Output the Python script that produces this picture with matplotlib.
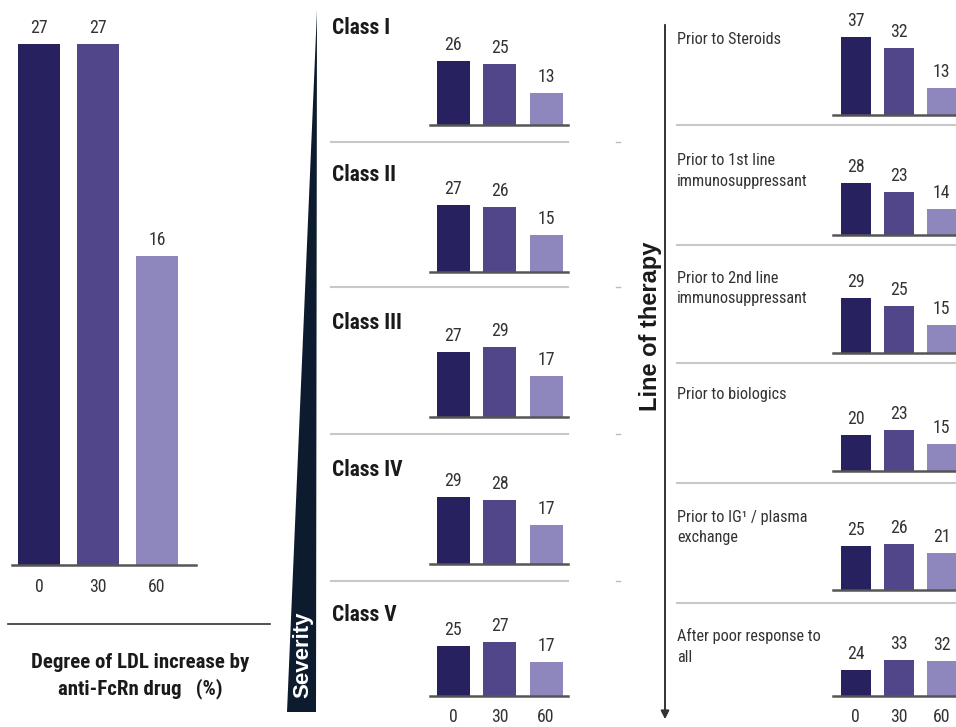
import matplotlib
matplotlib.use("Agg")
import matplotlib.pyplot as plt
from matplotlib import font_manager
from matplotlib.lines import Line2D
from matplotlib.patches import Polygon, FancyArrowPatch

# data
doses = ["0", "30", "60"]
overall = [27, 27, 16]

severity_classes = ["Class I", "Class II", "Class III", "Class IV", "Class V"]
severity_values = [
    [26, 25, 13],
    [27, 26, 15],
    [27, 29, 17],
    [29, 28, 17],
    [25, 27, 17],
]

therapy_lines = [
    "Prior to Steroids",
    "Prior to 1st line\nimmunosuppressant",
    "Prior to 2nd line\nimmunosuppressant",
    "Prior to biologics",
    "Prior to IG\u00b9 / plasma\nexchange",
    "After poor response to\nall",
]
therapy_values = [
    [37, 32, 13],
    [28, 23, 14],
    [29, 25, 15],
    [20, 23, 15],
    [25, 26, 21],
    [24, 33, 32],
]

COLORS = ["#28215f", "#51468a", "#8e87bd"]
TEXT = "#333333"
DARK = "#1a1a1a"

# pick a narrow face if one is installed, else plain Liberation Sans
fonts = font_manager.fontManager.ttflist
names = {f.name for f in fonts}
NARROW = {"family": "Liberation Sans"}
for want in ["Liberation Sans Narrow", "Noto Sans ExtraCondensed",
             "Noto Sans Condensed", "Roboto Condensed", "Open Sans Condensed"]:
    if want in names:
        NARROW = {"family": want}
        break
else:
    for f in fonts:
        if str(f.stretch) == "condensed":
            NARROW = {"family": f.name, "stretch": "condensed"}
            break
WIDE = "Liberation Sans"

W, H = 956, 727
fig = plt.figure(figsize=(W / 100, H / 100), dpi=100)
renderer = fig.canvas.get_renderer()


def text_width(s, size, **kw):
    t = fig.text(0, 0, s, fontsize=size, **kw)
    w = t.get_window_extent(renderer).width
    t.remove()
    return w


# scale the narrow text so long words keep their printed width
K = 132 / text_width("immunosuppressant", 12.5, **NARROW)
K_BOLD = 218 / text_width("Degree of LDL increase by", 14.5, weight="bold", **NARROW)
NUM = 13.5 * min(1.15, max(K, 0.95))


def px_axes(x0, x1, y_base, y_top):
    return fig.add_axes([x0 / W, 1 - y_base / H, (x1 - x0) / W, (y_base - y_top) / H])


def fig_line(x0, y0, x1, y1, **kw):
    fig.add_artist(Line2D([x0 / W, x1 / W], [1 - y0 / H, 1 - y1 / H],
                          transform=fig.transFigure, **kw))


def fig_text(x, y, s, **kw):
    return fig.text(x / W, 1 - y / H, s, **kw)


def mini_bars(ax, values, px_per_unit, height_px, width, xlim, show_ticks):
    ax.bar(range(3), values, width=width, color=COLORS)
    ax.set_xlim(*xlim)
    ax.set_ylim(0, height_px / px_per_unit)
    for side in ["top", "right", "left"]:
        ax.spines[side].set_visible(False)
    ax.spines["bottom"].set_color("#555555")
    ax.spines["bottom"].set_linewidth(1.8)
    ax.set_yticks([])
    if show_ticks:
        ax.set_xticks(range(3), doses, fontsize=NUM, color=TEXT, **NARROW)
        ax.tick_params(axis="x", length=0, pad=9)
    else:
        ax.set_xticks([])
    for i, v in enumerate(values):
        ax.annotate(str(v), (i, v), xytext=(0, 11.5), textcoords="offset points",
                    ha="center", va="center", fontsize=NUM, color=TEXT,
                    annotation_clip=False, **NARROW)
    ax.patch.set_visible(False)


# left: overall
ax = px_axes(12, 196, 565, 20)
mini_bars(ax, overall, 19.3, 545, 0.71, (-0.46, 2.66), True)
fig_line(8, 624, 270, 624, color="#333333", lw=1.2)
fig_text(140, 676, "Degree of LDL increase by\nanti-FcRn drug   (%)",
         ha="center", va="center", weight="bold",
         fontsize=14.5 * K_BOLD, color=DARK, linespacing=1.35, **NARROW)

# middle: severity wedge
wedge = [(317, 10), (287, 712), (316, 712)]
fig.add_artist(Polygon([(x / W, 1 - y / H) for x, y in wedge], closed=True,
                       transform=fig.transFigure, color="#0c1b2d", lw=0))
fig_text(303, 655, "Severity", rotation=90, ha="center", va="center",
         color="white", weight="bold", fontsize=16, family=WIDE)

sev_base = [125, 272, 417, 564, 696]
sev_label_y = [28, 175, 323, 470, 615]
sev_scale = [2.46, 2.5, 2.4, 2.3, 2.0]
sev_sep = [142, 287, 434, 581]
for k, (name, vals) in enumerate(zip(severity_classes, severity_values)):
    ax = px_axes(430, 568, sev_base[k], sev_base[k] - 118)
    mini_bars(ax, vals, sev_scale[k], 118, 0.71, (-0.495, 2.473),
              k == len(severity_classes) - 1)
    fig_text(332, sev_label_y[k], name, ha="left", va="center", weight="bold",
             fontsize=15 * K_BOLD, color=DARK, **NARROW)
for y in sev_sep:
    fig_line(331, y, 568, y, color="#c8c8c8", lw=1.5)
    fig_line(616, y, 620, y, color="#bbbbbb", lw=1)

# right: line of therapy
fig.add_artist(FancyArrowPatch((665 / W, 1 - 22 / H), (665 / W, 1 - 722 / H),
                               transform=fig.transFigure, arrowstyle="-|>",
                               mutation_scale=12, color="#333333", lw=1.4))
fig_text(651, 326, "Line of therapy", rotation=90, ha="center", va="center",
         weight="bold", fontsize=17, family=WIDE, color=DARK)

thr_base = [115, 235, 353, 471, 590, 696]
thr_label_y = [40, 171, 288.5, 395, 527.5, 646.5]
thr_scale = [2.1, 1.86, 1.9, 1.8, 1.76, 1.1]
thr_sep = [125, 245, 363, 483, 603]
for k, (name, vals) in enumerate(zip(therapy_lines, therapy_values)):
    ax = px_axes(833, 956, thr_base[k], thr_base[k] - 110)
    mini_bars(ax, vals, thr_scale[k], 110, 0.7, (-0.53, 2.33),
              k == len(therapy_lines) - 1)
    fig_text(677, thr_label_y[k], name, ha="left", va="center",
             fontsize=12.5 * K, color=TEXT, linespacing=1.45, **NARROW)
for y in thr_sep:
    fig_line(677, y, 956, y, color="#c8c8c8", lw=1.5)

fig.savefig("out.png", dpi=100)
